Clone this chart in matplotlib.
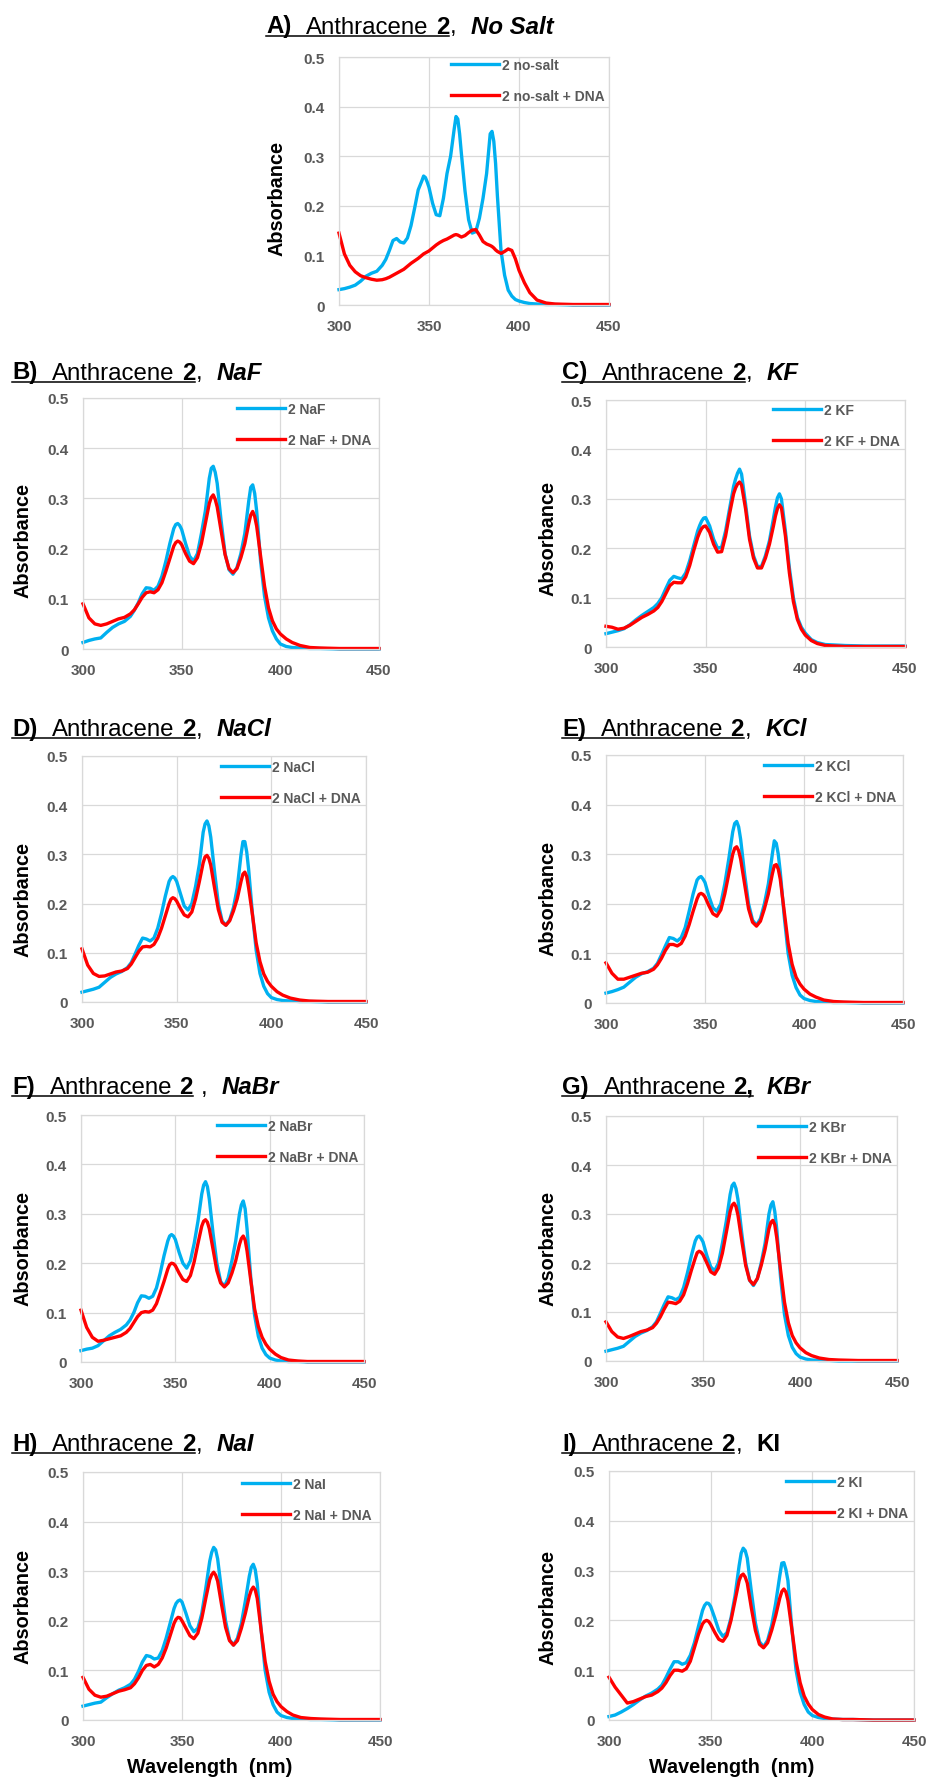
import matplotlib
matplotlib.use("Agg")
import matplotlib.pyplot as plt
from matplotlib.lines import Line2D
from matplotlib.font_manager import FontProperties

plt.rcParams['font.family'] = ['Liberation Sans', 'DejaVu Sans']

W, H = 928, 1781
DPI = 100

# ---------------- data ----------------
wavelength = [300, 303, 306, 309, 312, 315, 318, 321,
              324, 326, 328, 330, 332, 334, 336, 338,
              340, 342, 344, 346, 347, 348, 349, 350, 352, 354,
              356, 358, 360, 362, 364, 365, 366, 367, 368, 370,
              372, 374, 376, 378, 380, 382, 384, 385, 386, 387,
              388, 390, 392, 394, 396, 398, 400,
              403, 406, 410, 415, 420, 430, 450]

A_blue = [0.031, 0.033, 0.036, 0.040, 0.048, 0.058, 0.064, 0.068,
          0.080, 0.092, 0.110, 0.130, 0.134, 0.127, 0.125, 0.135,
          0.160, 0.195, 0.232, 0.250, 0.260, 0.257, 0.248, 0.237, 0.205, 0.182,
          0.180, 0.215, 0.265, 0.300, 0.355, 0.380, 0.375, 0.345, 0.305, 0.230,
          0.172, 0.145, 0.148, 0.175, 0.215, 0.265, 0.345, 0.350, 0.330, 0.285,
          0.220, 0.110, 0.060, 0.030, 0.018, 0.011, 0.008,
          0.005, 0.003, 0.002, 0.001, 0.001, 0.000, 0.000]
A_red = [0.145, 0.103, 0.080, 0.067, 0.059, 0.055, 0.052, 0.050,
         0.051, 0.053, 0.056, 0.060, 0.064, 0.068, 0.072, 0.078,
         0.084, 0.089, 0.094, 0.100, 0.103, 0.105, 0.107, 0.109, 0.115, 0.121,
         0.126, 0.130, 0.133, 0.137, 0.141, 0.142, 0.141, 0.139, 0.137, 0.140,
         0.146, 0.151, 0.152, 0.141, 0.128, 0.123, 0.120, 0.118, 0.115, 0.111,
         0.108, 0.104, 0.108, 0.113, 0.110, 0.093, 0.070,
         0.045, 0.025, 0.010, 0.004, 0.002, 0.001, 0.001]

B_blue = [0.013, 0.017, 0.020, 0.022, 0.033, 0.043, 0.050, 0.055,
          0.065, 0.077, 0.092, 0.110, 0.122, 0.121, 0.117, 0.125,
          0.145, 0.175, 0.210, 0.240, 0.248, 0.250, 0.246, 0.238, 0.210, 0.185,
          0.175, 0.190, 0.230, 0.275, 0.340, 0.360, 0.364, 0.352, 0.330, 0.255,
          0.190, 0.158, 0.149, 0.162, 0.190, 0.230, 0.295, 0.322, 0.327, 0.310,
          0.275, 0.175, 0.105, 0.062, 0.036, 0.020, 0.010,
          0.005, 0.003, 0.002, 0.001, 0.001, 0.000, 0.000]
B_red = [0.090, 0.062, 0.050, 0.047, 0.050, 0.055, 0.060, 0.063,
         0.070, 0.078, 0.090, 0.103, 0.112, 0.114, 0.112, 0.118,
         0.132, 0.155, 0.180, 0.205, 0.212, 0.215, 0.213, 0.208, 0.190, 0.175,
         0.170, 0.182, 0.210, 0.250, 0.290, 0.302, 0.307, 0.298, 0.283, 0.235,
         0.188, 0.160, 0.152, 0.160, 0.182, 0.210, 0.250, 0.267, 0.274, 0.264,
         0.245, 0.185, 0.125, 0.082, 0.056, 0.040, 0.030,
         0.020, 0.013, 0.007, 0.003, 0.002, 0.001, 0.001]

C_blue = [0.027, 0.030, 0.033, 0.037, 0.045, 0.055, 0.064, 0.072,
          0.080, 0.088, 0.100, 0.118, 0.135, 0.143, 0.140, 0.138,
          0.150, 0.175, 0.205, 0.235, 0.246, 0.255, 0.261, 0.262, 0.245, 0.218,
          0.200, 0.202, 0.235, 0.280, 0.325, 0.340, 0.352, 0.360, 0.350, 0.290,
          0.225, 0.185, 0.163, 0.163, 0.185, 0.215, 0.260, 0.283, 0.302, 0.310,
          0.300, 0.235, 0.160, 0.100, 0.060, 0.040, 0.028,
          0.015, 0.009, 0.005, 0.004, 0.003, 0.002, 0.002]
C_red = [0.042, 0.040, 0.036, 0.038, 0.044, 0.052, 0.060, 0.066,
         0.073, 0.080, 0.092, 0.108, 0.124, 0.131, 0.130, 0.130,
         0.142, 0.165, 0.195, 0.222, 0.232, 0.240, 0.244, 0.245, 0.232, 0.208,
         0.192, 0.193, 0.225, 0.270, 0.310, 0.322, 0.330, 0.334, 0.328, 0.280,
         0.218, 0.180, 0.160, 0.160, 0.180, 0.208, 0.245, 0.265, 0.280, 0.288,
         0.282, 0.225, 0.150, 0.092, 0.056, 0.036, 0.024,
         0.013, 0.007, 0.003, 0.002, 0.001, 0.001, 0.001]

D_blue = [0.020, 0.023, 0.026, 0.030, 0.040, 0.050, 0.057, 0.062,
          0.070, 0.080, 0.097, 0.115, 0.130, 0.128, 0.124, 0.130,
          0.150, 0.180, 0.215, 0.245, 0.252, 0.255, 0.252, 0.245, 0.220, 0.195,
          0.187, 0.200, 0.235, 0.280, 0.345, 0.362, 0.368, 0.358, 0.335, 0.265,
          0.200, 0.165, 0.156, 0.167, 0.192, 0.232, 0.300, 0.326, 0.326, 0.305,
          0.270, 0.180, 0.105, 0.058, 0.032, 0.017, 0.009,
          0.005, 0.003, 0.002, 0.001, 0.001, 0.000, 0.000]
D_red = [0.108, 0.075, 0.058, 0.052, 0.053, 0.057, 0.061, 0.063,
         0.068, 0.077, 0.090, 0.103, 0.112, 0.113, 0.112, 0.117,
         0.130, 0.150, 0.175, 0.200, 0.209, 0.212, 0.210, 0.205, 0.190, 0.177,
         0.173, 0.183, 0.210, 0.245, 0.283, 0.295, 0.298, 0.292, 0.278, 0.232,
         0.188, 0.162, 0.156, 0.165, 0.185, 0.210, 0.245, 0.260, 0.264, 0.255,
         0.232, 0.178, 0.120, 0.082, 0.057, 0.042, 0.032,
         0.021, 0.014, 0.008, 0.004, 0.002, 0.001, 0.001]

E_blue = [0.020, 0.023, 0.027, 0.032, 0.042, 0.052, 0.059, 0.063,
          0.070, 0.080, 0.097, 0.115, 0.132, 0.130, 0.125, 0.132,
          0.152, 0.185, 0.220, 0.248, 0.253, 0.255, 0.250, 0.243, 0.215, 0.192,
          0.185, 0.200, 0.240, 0.290, 0.345, 0.362, 0.366, 0.355, 0.330, 0.260,
          0.200, 0.167, 0.157, 0.170, 0.200, 0.240, 0.300, 0.327, 0.322, 0.300,
          0.265, 0.175, 0.100, 0.056, 0.031, 0.016, 0.009,
          0.005, 0.003, 0.002, 0.001, 0.001, 0.000, 0.000]
E_red = [0.081, 0.060, 0.048, 0.048, 0.052, 0.056, 0.060, 0.062,
         0.068, 0.077, 0.090, 0.106, 0.118, 0.118, 0.115, 0.120,
         0.135, 0.158, 0.185, 0.210, 0.219, 0.221, 0.219, 0.214, 0.196, 0.180,
         0.175, 0.188, 0.220, 0.260, 0.300, 0.312, 0.315, 0.307, 0.290, 0.240,
         0.190, 0.163, 0.155, 0.165, 0.190, 0.220, 0.260, 0.277, 0.279, 0.270,
         0.250, 0.185, 0.120, 0.078, 0.052, 0.038, 0.028,
         0.018, 0.012, 0.006, 0.003, 0.002, 0.001, 0.001]

F_blue = [0.023, 0.026, 0.028, 0.033, 0.043, 0.053, 0.060, 0.066,
          0.075, 0.085, 0.100, 0.120, 0.134, 0.133, 0.129, 0.133,
          0.150, 0.180, 0.215, 0.245, 0.255, 0.258, 0.255, 0.248, 0.222, 0.200,
          0.190, 0.205, 0.240, 0.285, 0.340, 0.358, 0.365, 0.355, 0.330, 0.260,
          0.200, 0.163, 0.153, 0.170, 0.205, 0.245, 0.300, 0.318, 0.326, 0.310,
          0.270, 0.170, 0.095, 0.052, 0.028, 0.015, 0.008,
          0.004, 0.002, 0.001, 0.001, 0.000, 0.000, 0.000]
F_red = [0.105, 0.070, 0.050, 0.042, 0.044, 0.047, 0.050, 0.053,
         0.060, 0.068, 0.080, 0.092, 0.100, 0.102, 0.101, 0.105,
         0.118, 0.140, 0.163, 0.188, 0.197, 0.200, 0.199, 0.195, 0.180, 0.167,
         0.163, 0.175, 0.203, 0.240, 0.275, 0.285, 0.288, 0.283, 0.270, 0.228,
         0.185, 0.160, 0.152, 0.160, 0.180, 0.205, 0.238, 0.250, 0.255, 0.247,
         0.225, 0.165, 0.108, 0.072, 0.050, 0.036, 0.026,
         0.016, 0.009, 0.004, 0.002, 0.001, 0.001, 0.001]

G_blue = [0.020, 0.023, 0.026, 0.030, 0.040, 0.050, 0.057, 0.062,
          0.070, 0.080, 0.097, 0.115, 0.131, 0.129, 0.125, 0.130,
          0.150, 0.180, 0.215, 0.245, 0.253, 0.255, 0.250, 0.243, 0.215, 0.192,
          0.184, 0.200, 0.240, 0.285, 0.340, 0.358, 0.363, 0.352, 0.330, 0.260,
          0.200, 0.165, 0.154, 0.168, 0.200, 0.240, 0.300, 0.318, 0.325, 0.305,
          0.270, 0.170, 0.095, 0.052, 0.028, 0.015, 0.008,
          0.004, 0.002, 0.001, 0.001, 0.000, 0.000, 0.000]
G_red = [0.080, 0.060, 0.049, 0.046, 0.050, 0.055, 0.060, 0.063,
         0.068, 0.077, 0.090, 0.106, 0.120, 0.119, 0.117, 0.122,
         0.135, 0.158, 0.185, 0.210, 0.221, 0.224, 0.222, 0.217, 0.200, 0.182,
         0.177, 0.190, 0.220, 0.262, 0.305, 0.318, 0.322, 0.315, 0.298, 0.245,
         0.195, 0.165, 0.156, 0.168, 0.195, 0.228, 0.270, 0.283, 0.287, 0.278,
         0.252, 0.185, 0.120, 0.078, 0.052, 0.037, 0.027,
         0.017, 0.011, 0.006, 0.003, 0.002, 0.001, 0.001]

H_blue = [0.028, 0.031, 0.034, 0.036, 0.045, 0.053, 0.060, 0.065,
          0.072, 0.082, 0.098, 0.117, 0.130, 0.128, 0.123, 0.125,
          0.140, 0.165, 0.195, 0.225, 0.235, 0.240, 0.242, 0.238, 0.215, 0.190,
          0.178, 0.185, 0.215, 0.265, 0.320, 0.338, 0.348, 0.343, 0.325, 0.260,
          0.200, 0.162, 0.151, 0.165, 0.195, 0.240, 0.290, 0.308, 0.314, 0.303,
          0.275, 0.180, 0.100, 0.056, 0.031, 0.016, 0.009,
          0.005, 0.003, 0.002, 0.001, 0.001, 0.000, 0.000]
H_red = [0.086, 0.062, 0.050, 0.046, 0.048, 0.053, 0.058, 0.061,
         0.065, 0.073, 0.085, 0.100, 0.110, 0.112, 0.107, 0.112,
         0.125, 0.145, 0.170, 0.195, 0.203, 0.207, 0.206, 0.200, 0.185, 0.170,
         0.164, 0.175, 0.205, 0.245, 0.283, 0.293, 0.298, 0.292, 0.280, 0.232,
         0.187, 0.160, 0.151, 0.160, 0.185, 0.215, 0.250, 0.262, 0.268, 0.262,
         0.245, 0.180, 0.118, 0.078, 0.052, 0.037, 0.027,
         0.017, 0.010, 0.005, 0.003, 0.002, 0.001, 0.001]

I_blue = [0.007, 0.010, 0.016, 0.023, 0.031, 0.040, 0.048, 0.054,
          0.062, 0.070, 0.085, 0.102, 0.117, 0.117, 0.112, 0.115,
          0.130, 0.155, 0.188, 0.220, 0.230, 0.235, 0.234, 0.228, 0.205, 0.180,
          0.168, 0.175, 0.205, 0.250, 0.310, 0.335, 0.345, 0.340, 0.325, 0.258,
          0.195, 0.157, 0.147, 0.160, 0.190, 0.235, 0.290, 0.315, 0.316, 0.302,
          0.280, 0.180, 0.100, 0.056, 0.031, 0.016, 0.009,
          0.005, 0.003, 0.002, 0.001, 0.001, 0.000, 0.000]
I_red = [0.086, 0.066, 0.050, 0.034, 0.037, 0.042, 0.047, 0.050,
         0.057, 0.064, 0.075, 0.089, 0.100, 0.100, 0.098, 0.103,
         0.118, 0.145, 0.172, 0.193, 0.198, 0.200, 0.198, 0.192, 0.176, 0.162,
         0.158, 0.170, 0.200, 0.240, 0.280, 0.290, 0.293, 0.287, 0.275, 0.225,
         0.180, 0.152, 0.145, 0.155, 0.180, 0.210, 0.245, 0.258, 0.263, 0.257,
         0.240, 0.180, 0.118, 0.075, 0.048, 0.032, 0.021,
         0.011, 0.006, 0.002, 0.001, 0.001, 0.000, 0.000]

panel_letters = ['A', 'B', 'C', 'D', 'E', 'F', 'G', 'H', 'I']
salt_titles = ['No Salt', 'NaF', 'KF', 'NaCl', 'KCl', 'NaBr', 'KBr', 'NaI', 'KI']
legend_names = ['no-salt', 'NaF', 'KF', 'NaCl', 'KCl', 'NaBr', 'KBr', 'NaI', 'KI']
blue_series = [A_blue, B_blue, C_blue, D_blue, E_blue, F_blue, G_blue, H_blue, I_blue]
red_series = [A_red, B_red, C_red, D_red, E_red, F_red, G_red, H_red, I_red]
x_ticks = [300, 350, 400, 450]
y_ticks = [0, 0.1, 0.2, 0.3, 0.4, 0.5]
y_tick_labels = ['0', '0.1', '0.2', '0.3', '0.4', '0.5']

# ---------------- layout (pixels) ----------------
axes_px = {  # left, top, right, bottom
    'A': (339, 58, 609, 306),
    'B': (83, 399, 379, 650),
    'C': (606, 401, 905, 648),
    'D': (82, 757, 366, 1003),
    'E': (606, 756, 903, 1004),
    'F': (81, 1116, 364, 1363),
    'G': (606, 1117, 897, 1362),
    'H': (83, 1473, 380, 1721),
    'I': (609, 1472, 914, 1721),
}
title_px = {  # left x, baseline y
    'A': (266, 33.5), 'B': (12, 379.5), 'C': (562, 379.5),
    'D': (12, 736), 'E': (562, 736), 'F': (12, 1094), 'G': (562, 1094),
    'H': (12, 1451), 'I': (562, 1451),
}
ylabel_px = {  # centre x, centre y
    'A': (277, 198), 'B': (23, 540), 'C': (548, 539), 'D': (23, 900),
    'E': (548, 899), 'F': (23, 1249), 'G': (548, 1249), 'H': (23, 1607),
    'I': (548, 1608),
}
legend_px = {  # handle start x, first row centre y
    'A': (451, 66), 'B': (237, 410), 'C': (773, 411), 'D': (221, 768),
    'E': (764, 767), 'F': (217, 1127), 'G': (758, 1128), 'H': (242, 1485),
    'I': (786, 1483),
}

BLUE = '#00B0F0'
RED = '#FF0000'
GRID = '#D9D9D9'
TICK = '#595959'
FAM = ['Liberation Sans', 'DejaVu Sans']

fig = plt.figure(figsize=(W / DPI, H / DPI), dpi=DPI)
fig.patch.set_facecolor('white')
renderer = fig.canvas.get_renderer()


def fx(px):
    return px / W


def fy(py):
    return (H - py) / H


for i, L in enumerate(panel_letters):
    l, t, r, b = axes_px[L]
    ax = fig.add_axes([fx(l), fy(b), (r - l) / W, (b - t) / H])
    ax.set_xlim(300, 450)
    ax.set_ylim(0, 0.5)
    ax.set_xticks(x_ticks)
    ax.set_yticks(y_ticks)
    ax.set_yticklabels(y_tick_labels)
    ax.grid(True, color=GRID, lw=0.9)
    ax.set_axisbelow(True)
    for s in ax.spines.values():
        s.set_color(GRID)
        s.set_linewidth(0.9)
    ax.tick_params(length=0, pad=10, labelsize=11, labelcolor=TICK)
    for lab in ax.get_xticklabels() + ax.get_yticklabels():
        lab.set_fontweight('bold')
        lab.set_family(FAM)

    name = legend_names[i]
    h1, = ax.plot(wavelength, blue_series[i], color=BLUE, lw=2.4,
                  clip_on=False, solid_joinstyle='round', label=f'2 {name}')
    h2, = ax.plot(wavelength, red_series[i], color=RED, lw=2.4,
                  clip_on=False, solid_joinstyle='round', label=f'2 {name} + DNA')

    hx, hy = legend_px[L]
    ax_h = b - t
    anchor = ((hx - l) / (r - l), 1 - (hy - 7 - t) / ax_h)
    leg = ax.legend(handles=[h1, h2], loc='upper left', bbox_to_anchor=anchor,
                    frameon=False, borderpad=0, borderaxespad=0,
                    handlelength=3.45, handletextpad=0.25, labelspacing=1.2,
                    prop=FontProperties(family=FAM, weight='bold', size=10))
    for tx in leg.get_texts():
        tx.set_color(TICK)

    # y label
    cx, cy = ylabel_px[L]
    fig.text(fx(cx), fy(cy), 'Absorbance', rotation=90, ha='center', va='center',
             fontsize=14.3, fontweight='bold', color='black', family=FAM)

    # title segments: text, weight, style, underline, gap before (px)
    salt = salt_titles[i]
    salt_style = 'normal' if L == 'I' else 'italic'
    if L == 'F':
        segs = [(f'{L})', 'bold', 'normal', True, 0),
                ('Anthracene', 'normal', 'normal', True, 15),
                ('2', 'bold', 'normal', True, 7),
                (',', 'normal', 'normal', False, 8),
                (salt, 'bold', salt_style, False, 14)]
    elif L == 'G':
        segs = [(f'{L})', 'bold', 'normal', True, 0),
                ('Anthracene', 'normal', 'normal', True, 15),
                ('2,', 'bold', 'normal', True, 7),
                (salt, 'bold', salt_style, False, 13)]
    else:
        segs = [(f'{L})', 'bold', 'normal', True, 0),
                ('Anthracene', 'normal', 'normal', True, 15),
                ('2', 'bold', 'normal', True, 7),
                (',', 'normal', 'normal', False, 1),
                (salt, 'bold', salt_style, False, 14)]
    x0, base = title_px[L]
    x = x0
    spans = []
    for text, wt, st, ul, gap in segs:
        x += gap
        tt = fig.text(fx(x), fy(base), text, ha='left', va='baseline',
                      fontsize=17.3, fontweight=wt, fontstyle=st,
                      color='black', family=FAM)
        bb = tt.get_window_extent(renderer)
        spans.append((x, x + bb.width, ul))
        x = x + bb.width
    # underline runs
    run = None
    runs = []
    for (a, c, ul) in spans:
        if ul:
            if run is None:
                run = [a, c]
            else:
                run[1] = c
        else:
            if run is not None:
                runs.append(run)
                run = None
    if run is not None:
        runs.append(run)
    for a, c in runs:
        fig.add_artist(Line2D([fx(a), fx(c)], [fy(base + 3), fy(base + 3)],
                              transform=fig.transFigure, color='black', lw=1.1))

# x labels on bottom row
for cx in (209.5, 731.5):
    fig.text(fx(cx), fy(1768), 'Wavelength  (nm)', ha='center', va='center',
             fontsize=14.3, fontweight='bold', color='black', family=FAM)

fig.savefig('out.png', dpi=DPI, facecolor='white')
